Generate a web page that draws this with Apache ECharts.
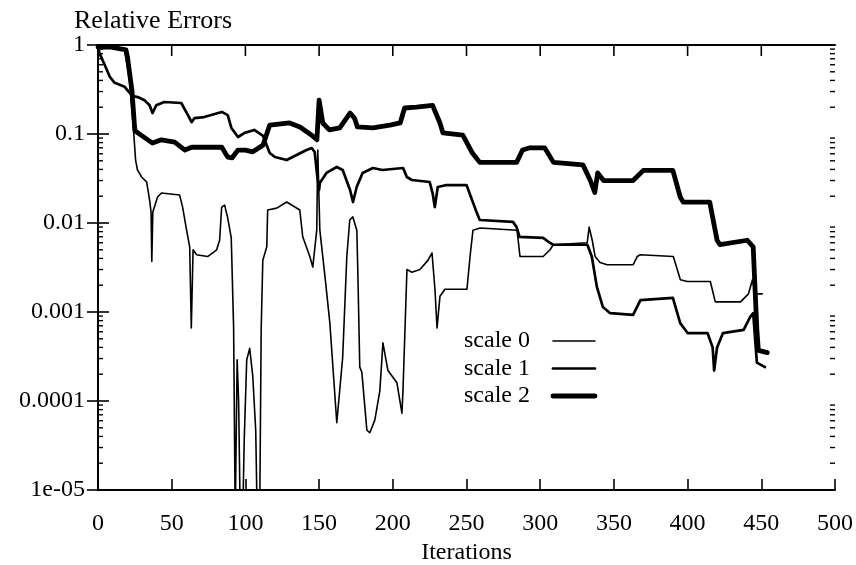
<!DOCTYPE html>
<html>
<head>
<meta charset="utf-8">
<script src="https://cdn.jsdelivr.net/npm/echarts@6/dist/echarts.min.js"></script>
<style>
  html, body { margin: 0; padding: 0; background: #fff; }
  #chart { width: 856px; height: 565px; }
</style>
</head>
<body>
<div id="chart"></div>
<script>
// Axis ticks
const xTickValues = [0, 50, 100, 150, 200, 250, 300, 350, 400, 450, 500];
const xTickLabels = ['0', '50', '100', '150', '200', '250', '300', '350', '400', '450', '500'];
const yTickValues = [1e-5, 1e-4, 1e-3, 1e-2, 1e-1, 1];
const yTickLabels = ['1e-05', '0.0001', '0.001', '0.01', '0.1', '1'];

const seriesNames = ['scale 0', 'scale 1', 'scale 2'];

// Relative error per iteration: [iteration, error]
const scale0 = [
  [0, 1.0], [8, 0.95], [18, 0.88], [21.4, 0.40], [24.1, 0.111], [25.5, 0.051], [26.8, 0.0394],
  [29.6, 0.0329], [33, 0.0289], [35, 0.0181], [36, 0.0133], [36.5, 0.0037], [37.2, 0.0133],
  [40.4, 0.0196], [43.1, 0.0217], [55.4, 0.0206], [57.4, 0.0151], [60.1, 0.0083], [62.2, 0.0054],
  [63.3, 0.00066], [64.5, 0.005], [66.9, 0.0044], [74.4, 0.0042], [80.5, 0.005], [82.5, 0.0064],
  [83.9, 0.0151], [85.9, 0.0159], [88, 0.0114], [90.4, 0.0068], [92, 0.00068], [93.1, 0.000005],
  [94.4, 0.00029], [95.4, 0.0001], [96.5, 0.000005], [98.2, 0.000005], [99.2, 0.000036],
  [100.9, 0.00029], [102.9, 0.00039], [105, 0.00019], [107, 0.000047], [108, 0.000005],
  [109.7, 0.000005], [110.7, 0.00063], [111.8, 0.0038], [114.5, 0.0054], [115.1, 0.014],
  [121.3, 0.0147], [128, 0.0172], [136.9, 0.014], [138.9, 0.007], [143.7, 0.0042], [145.7, 0.0032],
  [148.4, 0.0083], [149.1, 0.066], [150.5, 0.0083], [154, 0.0025], [157.3, 0.00075], [162, 0.000057],
  [166, 0.00031], [168.8, 0.0042], [170.8, 0.0108], [172.9, 0.0117], [175.6, 0.0083], [176.3, 0.0027],
  [177.6, 0.00024], [179, 0.00021], [182.4, 0.000047], [184.4, 0.000044], [187.8, 0.000061],
  [191.2, 0.00013], [193.3, 0.00045], [196.7, 0.00022], [202.8, 0.00016], [206.2, 0.000073],
  [206.9, 0.00013], [209.6, 0.003], [213, 0.0028], [218.4, 0.003], [223.8, 0.0038], [226.6, 0.0046],
  [228.6, 0.0018], [230, 0.00066], [232, 0.0015], [235.4, 0.0018], [250.3, 0.0018], [252.4, 0.0042],
  [254.4, 0.0083], [259.2, 0.0088], [284.3, 0.0083], [286.3, 0.0042], [302, 0.0042], [306.7, 0.005],
  [308.8, 0.0057], [331.9, 0.006], [333.2, 0.009], [335.3, 0.0064], [337.3, 0.0042], [340.6, 0.0036],
  [345.4, 0.0034], [363.1, 0.0034], [365.8, 0.0042], [367.9, 0.0044], [390.3, 0.0042], [395.1, 0.0023],
  [399.8, 0.0022], [415.4, 0.0022], [418.8, 0.0013], [435.9, 0.0013], [441.3, 0.0016], [444, 0.0023],
  [446, 0.0016], [450.7, 0.0016]
];

const scale1 = [
  [0, 0.97], [1, 0.81], [4.5, 0.6], [8, 0.44], [11, 0.38], [18, 0.34], [20, 0.31], [23.5, 0.267],
  [27, 0.26], [31.5, 0.24], [35, 0.21], [37, 0.172], [39.5, 0.21], [45, 0.229], [56.5, 0.223],
  [61, 0.163], [63.5, 0.136], [65.5, 0.151], [72, 0.155], [84, 0.177], [88, 0.163], [90.5, 0.117],
  [95, 0.0925], [99.5, 0.103], [106, 0.111], [112, 0.095], [116.5, 0.0612], [120, 0.0552],
  [128, 0.051], [132, 0.0552], [141.5, 0.0661], [145, 0.0696], [147, 0.0628], [148.5, 0.0365],
  [150, 0.0235], [150.5, 0.0281], [155, 0.0365], [162, 0.0426], [166, 0.0394], [171, 0.0235],
  [173, 0.0172], [175.5, 0.0254], [179.5, 0.0365], [186.5, 0.0415], [193, 0.0394], [207, 0.0415],
  [209.5, 0.0329], [213, 0.0304], [225, 0.0289], [227, 0.0217], [228.5, 0.0151], [230.5, 0.0254],
  [236.5, 0.0267], [250, 0.0267], [257, 0.013], [259, 0.0108], [281.5, 0.0103], [284, 0.009],
  [286, 0.007], [302, 0.0068], [306.5, 0.006], [309, 0.0057], [332, 0.0057], [335, 0.0042],
  [338.5, 0.0019], [342.5, 0.00114], [347.5, 0.00097], [363, 0.00093], [368, 0.00136], [390, 0.00144],
  [395, 0.00075], [400, 0.00058], [413.5, 0.00058], [417, 0.0004], [418, 0.00022], [420, 0.0004],
  [424, 0.00058], [438, 0.00063], [442.5, 0.00088], [444.5, 0.00097], [447, 0.00027], [452.5, 0.00024]
];

const scale2 = [
  [0, 0.95], [8, 0.95], [19, 0.88], [20, 0.73], [23, 0.31], [25, 0.11], [27, 0.103], [37, 0.079],
  [43, 0.086], [52, 0.081], [59, 0.066], [63.5, 0.071], [84, 0.071], [88, 0.055], [91, 0.054],
  [95, 0.066], [100, 0.066], [105, 0.063], [112, 0.075], [116.5, 0.126], [130, 0.133], [137, 0.12],
  [145, 0.097], [148.5, 0.086], [150, 0.24], [152.5, 0.133], [157, 0.111], [164, 0.117], [171, 0.172],
  [174, 0.151], [176, 0.12], [186.5, 0.117], [198, 0.126], [205, 0.133], [208, 0.196], [216, 0.2],
  [227, 0.21], [232, 0.133], [234, 0.103], [247.5, 0.097], [254, 0.061], [259, 0.048], [284, 0.048],
  [288, 0.066], [293, 0.07], [303, 0.07], [309, 0.048], [329, 0.045], [334, 0.03], [337, 0.022],
  [339, 0.0365], [343, 0.03], [363, 0.03], [370, 0.039], [390, 0.039], [395, 0.0196], [397, 0.0172],
  [415, 0.0172], [420, 0.0064], [422, 0.0057], [440.5, 0.0064], [444.5, 0.0054], [447, 0.00063],
  [448, 0.00037], [454, 0.00035]
];

const lineWidths = [1.6, 2.7, 4.8];

const FONT = "'Liberation Serif', 'Times New Roman', serif";
const INK = '#000';

// minor ticks at 2..9 within each decade
const minorTickValues = [];
for (let e = -5; e < 0; e++) {
  for (let k = 2; k <= 9; k++) minorTickValues.push(k * Math.pow(10, e));
}

function yLabel(v) {
  const i = yTickValues.findIndex(t => Math.abs(Math.log10(t) - Math.log10(v)) < 1e-6);
  return i >= 0 ? yTickLabels[i] : '';
}
function xLabel(v) {
  const i = xTickValues.indexOf(v);
  return i >= 0 ? xTickLabels[i] : '';
}

const chart = echarts.init(document.getElementById('chart'), null, { renderer: 'canvas' });

const axisLineStyle = { color: INK, width: 2 };
const tickStyle = { color: INK, width: 1.6 };

// draws short inward ticks on the frame: minor ticks on both vertical edges,
// and major iteration ticks along the top edge
function frameTickItem(params, api) {
  const cs = params.coordSys;
  const kind = api.value(2);
  const children = [];
  if (kind === 0) {
    const y = api.coord([0, api.value(1)])[1];
    const xl = cs.x, xr = cs.x + cs.width;
    children.push({ type: 'line', shape: { x1: xl, y1: y, x2: xl + 5, y2: y }, style: { stroke: INK, lineWidth: 1.4 } });
    children.push({ type: 'line', shape: { x1: xr - 5, y1: y, x2: xr, y2: y }, style: { stroke: INK, lineWidth: 1.4 } });
  } else {
    const x = api.coord([api.value(0), 1])[0];
    const yt = cs.y;
    children.push({ type: 'line', shape: { x1: x, y1: yt, x2: x, y2: yt + 11 }, style: { stroke: INK, lineWidth: 1.6 } });
  }
  return { type: 'group', children: children };
}

const frameTickData = minorTickValues.map(v => [0, v, 0])
  .concat(xTickValues.slice(1, -1).map(v => [v, 1, 1]));

const option = {
  animation: false,
  backgroundColor: '#fff',
  title: {
    text: 'Relative Errors',
    left: 69,
    top: 3,
    textStyle: { fontFamily: FONT, fontSize: 26, fontWeight: 'normal', color: INK }
  },
  grid: { left: 98, right: 21, top: 45, bottom: 75, containLabel: false, outerBoundsMode: 'none' },
  legend: {
    orient: 'vertical',
    left: 459,
    top: 324,
    align: 'right',
    itemWidth: 42,
    itemHeight: 14,
    itemGap: 3.5,
    data: seriesNames.map((n, i) => ({ name: n, lineStyle: { color: INK, width: lineWidths[i] } })),
    itemStyle: { opacity: 0 },
    textStyle: { fontFamily: FONT, fontSize: 24, color: INK, padding: [0, 18, 0, 0] }
  },
  xAxis: [
    {
      type: 'value', min: 0, max: 500, interval: 50, position: 'bottom',
      name: 'Iterations', nameLocation: 'middle', nameGap: 45,
      nameTextStyle: { fontFamily: FONT, fontSize: 24, color: INK },
      axisLine: { show: true, lineStyle: axisLineStyle },
      axisTick: { show: true, inside: true, length: 11, lineStyle: tickStyle },
      axisLabel: { show: true, margin: 22, formatter: xLabel, fontFamily: FONT, fontSize: 24, color: INK },
      splitLine: { show: false }
    },
    {
      type: 'value', min: 0, max: 500, interval: 50, position: 'top',
      axisLine: { show: true, lineStyle: axisLineStyle },
      axisTick: { show: false },
      axisLabel: { show: false },
      splitLine: { show: false }
    }
  ],
  yAxis: [
    {
      type: 'log', logBase: 10, min: 1e-5, max: 1, position: 'left',
      axisLine: { show: true, lineStyle: axisLineStyle },
      axisTick: { show: true, inside: true, length: 11, lineStyle: tickStyle, customValues: yTickValues },
      axisLabel: { show: true, margin: 13, customValues: yTickValues, formatter: yLabel,
                   fontFamily: FONT, fontSize: 24, color: INK },
      splitLine: { show: false }
    },
    {
      type: 'log', logBase: 10, min: 1e-5, max: 1, position: 'right',
      axisLine: { show: true, lineStyle: axisLineStyle },
      axisTick: { show: true, inside: true, length: 11, lineStyle: tickStyle, customValues: yTickValues },
      axisLabel: { show: false },
      splitLine: { show: false }
    }
  ],
  series: [
    ...[scale0, scale1, scale2].map((data, i) => ({
      name: seriesNames[i],
      type: 'line',
      data: data,
      xAxisIndex: 0,
      yAxisIndex: 0,
      symbol: 'none',
      showSymbol: false,
      clip: true,
      color: INK,
      lineStyle: { color: INK, width: lineWidths[i], join: 'round', cap: 'round' },
      emphasis: { disabled: true },
      z: 3 + i
    })),
    {
      name: 'frameTicks',
      type: 'custom',
      xAxisIndex: 0,
      yAxisIndex: 0,
      silent: true,
      clip: false,
      data: frameTickData,
      renderItem: frameTickItem
    }
  ]
};

chart.setOption(option);
</script>
</body>
</html>
